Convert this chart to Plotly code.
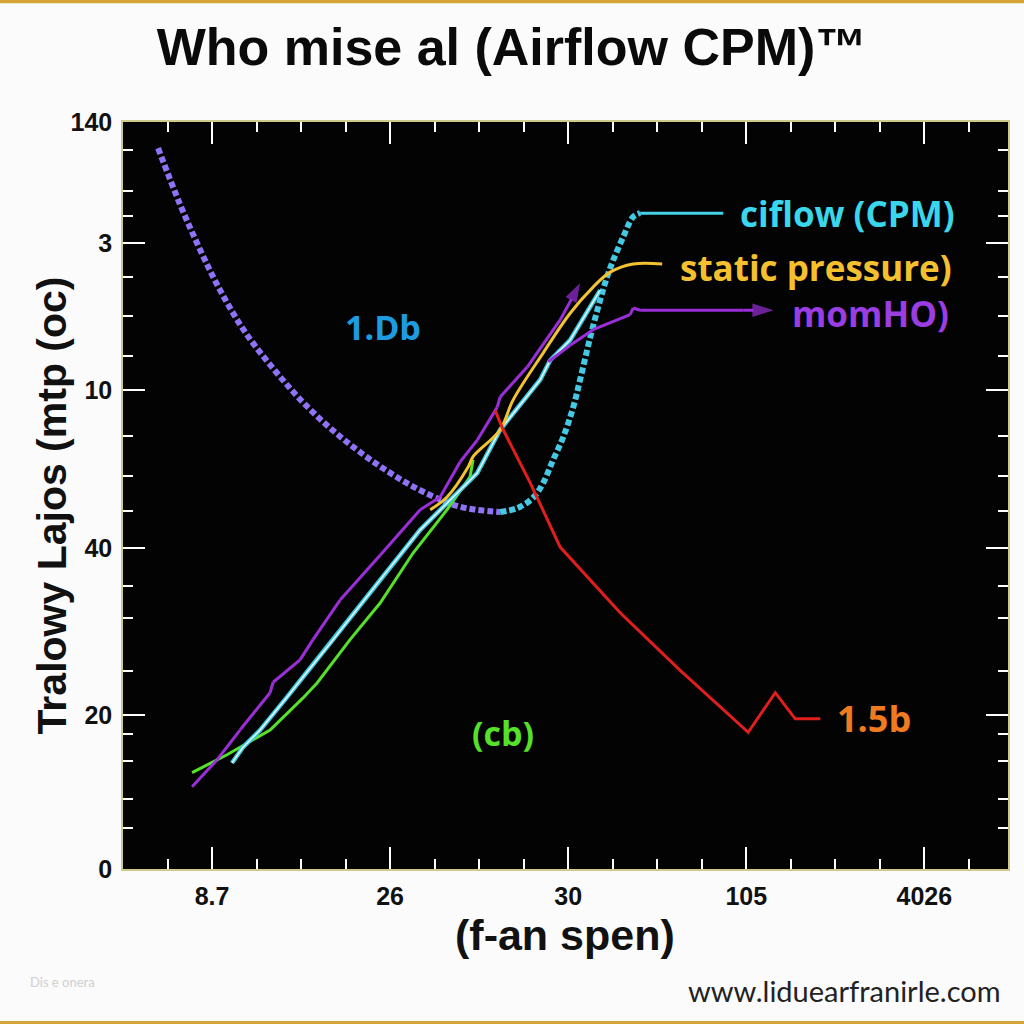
import plotly.graph_objects as go

# ---- data (x in tick-index units: 0..4 -> "8.7".."4026"; y in 0..100 axis units) ----
x_tick_labels = ["8.7", "26", "30", "105", "4026"]
x_tick_vals = [0, 1, 2, 3, 4]
y_tick_labels = ["140", "3", "10", "40", "20", "0"]
y_tick_vals = [100, 83.8, 64.1, 43.0, 20.6, 0]

fan_curve_x = [-0.303, -0.180, -0.067, 0.045, 0.185, 0.354, 0.522, 0.719, 0.944, 1.169, 1.393, 1.618]
fan_curve_y = [96.5, 89.0, 82.9, 77.5, 71.9, 66.7, 62.2, 57.9, 53.9, 50.7, 48.5, 47.8]

airflow_dot_x = [1.618, 1.713, 1.803, 1.860, 1.916, 1.972, 2.028, 2.067, 2.124, 2.180, 2.219, 2.253, 2.309, 2.365, 2.404]
airflow_dot_y = [47.8, 48.3, 49.7, 51.7, 54.8, 57.8, 61.8, 65.5, 71.2, 76.2, 79.3, 81.5, 84.6, 87.3, 87.8]
airflow_tail_x = [2.404, 2.871]
airflow_tail_y = [87.8, 87.8]

static_x = [1.225, 1.320, 1.438, 1.466, 1.618, 1.691, 1.860, 2.011, 2.140, 2.236, 2.365, 2.528]
static_y = [48.1, 49.8, 53.8, 55.2, 58.8, 62.8, 69.1, 74.4, 77.9, 79.9, 81.0, 81.0]

cyan_x = [0.112, 0.174, 0.270, 0.365, 0.421, 0.511, 0.680, 0.944, 1.169, 1.489, 1.618, 1.843, 1.899, 2.011, 2.180]
cyan_y = [14.2, 16.3, 18.6, 21.3, 23.0, 25.7, 30.7, 38.7, 45.4, 53.0, 58.8, 65.5, 68.1, 70.8, 77.5]

green_x = [-0.112, 0.084, 0.326, 0.511, 0.590, 0.775, 0.944, 1.129, 1.320, 1.449, 1.466]
green_y = [12.9, 15.3, 18.6, 22.9, 24.9, 30.7, 35.6, 42.3, 48.1, 52.5, 54.8]

purple_x = [-0.112, 0.028, 0.157, 0.326, 0.343, 0.494, 0.567, 0.719, 0.944, 1.169, 1.281, 1.393, 1.489, 1.601, 1.618, 1.770, 1.955, 2.067]
purple_y = [11.0, 14.6, 18.6, 23.6, 25.0, 28.0, 30.7, 36.0, 42.0, 48.1, 49.8, 54.5, 57.4, 61.8, 63.2, 67.2, 73.5, 78.4]

mom_x = [1.888, 2.011, 2.140, 2.275, 2.348, 2.365, 2.404, 2.983, 3.152]
mom_y = [67.9, 70.1, 72.2, 73.5, 74.2, 75.1, 74.8, 74.8, 74.8]

red_x = [1.590, 1.635, 1.787, 1.955, 2.292, 2.629, 3.011, 3.163, 3.275, 3.416]
red_y = [61.4, 58.8, 51.7, 43.1, 34.3, 26.6, 18.3, 23.6, 20.1, 20.1]

y_minor_vals = [96.3, 90.8, 87.4, 79.3, 74.0, 68.7, 58.0, 52.6, 47.9, 37.9, 33.6, 26.5, 18.1, 14.5, 9.4, 5.5]

FONT = "Liberation Sans"
LABEL_FONT = "Open Sans"

fig = go.Figure()

# fan curve (dotted, purple) and airflow rise (dotted, cyan)
fig.add_trace(go.Scatter(x=fan_curve_x, y=fan_curve_y, mode="lines", line=dict(color="#8f72f5", width=6, dash="6px,3px", shape="spline"), hoverinfo="skip"))
fig.add_trace(go.Scatter(x=airflow_dot_x, y=airflow_dot_y, mode="lines", line=dict(color="#45c8e4", width=6, dash="6px,3px", shape="spline"), hoverinfo="skip"))
fig.add_trace(go.Scatter(x=airflow_tail_x, y=airflow_tail_y, mode="lines", line=dict(color="#45d0e8", width=3), hoverinfo="skip"))

# green
fig.add_trace(go.Scatter(x=green_x, y=green_y, mode="lines", line=dict(color="#56e02a", width=3), hoverinfo="skip"))
# cyan/white double line
fig.add_trace(go.Scatter(x=cyan_x, y=cyan_y, mode="lines", line=dict(color="#3cc6e0", width=4.5), hoverinfo="skip"))
fig.add_trace(go.Scatter(x=cyan_x, y=cyan_y, mode="lines", line=dict(color="#e8fbff", width=1.5), hoverinfo="skip"))
# yellow static pressure
fig.add_trace(go.Scatter(x=static_x, y=static_y, mode="lines", line=dict(color="#f2c232", width=3, shape="spline"), hoverinfo="skip"))

# purple arrow line
n = len(purple_x)
fig.add_trace(go.Scatter(x=purple_x, y=purple_y, mode="lines+markers",
                         line=dict(color="#9a2fd8", width=3),
                         marker=dict(symbol="arrow", angleref="previous", size=[0] * (n - 1) + [20], color="#9a2fd8", line=dict(width=0)),
                         hoverinfo="skip"))
m = len(mom_x)
fig.add_trace(go.Scatter(x=mom_x, y=mom_y, mode="lines+markers",
                         line=dict(color="#9a2fd8", width=3),
                         marker=dict(symbol="arrow", angleref="previous", size=[0] * (m - 1) + [22], color="#9a2fd8", line=dict(width=0)),
                         hoverinfo="skip"))
# red
fig.add_trace(go.Scatter(x=red_x, y=red_y, mode="lines", line=dict(color="#e01e1e", width=3), hoverinfo="skip"))

# in-plot labels
labels = [
    (airflow_tail_x[-1] + 0.084, airflow_tail_y[-1], "ciflow (CPM)", "#3ad6ec", 35, "left"),
    (static_x[-1] + 0.09, static_y[-1] - 0.5, "static pressure)", "#f5c02e", 35, "left"),
    (mom_x[-1] + 0.095, mom_y[-1] - 0.4, "momHO)", "#9a3de2", 35, "left"),
    (red_x[-1] + 0.084, red_y[-1], "1.5b", "#f07a20", 36, "left"),
    (0.96, 72.6, "1.Db", "#1d9ce2", 34, "center"),
    (1.635, 18.2, "(cb)", "#55e02a", 34, "center"),
]
for lx, ly, txt, col, sz, anc in labels:
    fig.add_annotation(x=lx, y=ly, text=f"<b>{txt}</b>", showarrow=False, xanchor=anc, yanchor="middle",
                       font=dict(family=LABEL_FONT, size=sz, color=col))

# axis titles, footer
fig.add_annotation(xref="paper", yref="paper", x=-0.080, y=0.487, text="<b>Tralowy Lajos (mtp (oc)</b>", textangle=-90,
                   showarrow=False, xanchor="center", yanchor="middle", font=dict(family=FONT, size=41, color="#111111"))
fig.add_annotation(xref="paper", yref="paper", x=0.499, y=-0.088, text="<b>(f-an spen)</b>",
                   showarrow=False, xanchor="center", yanchor="middle", font=dict(family=FONT, size=43, color="#111111"))
fig.add_annotation(xref="paper", yref="paper", x=0.994, y=-0.162, text="www.liduearfranirle.com",
                   showarrow=False, xanchor="right", yanchor="middle", font=dict(family="Lato", size=29, color="#222222"))
fig.add_annotation(xref="paper", yref="paper", x=-0.107, y=-0.151, text="Dis e onera",
                   showarrow=False, xanchor="left", yanchor="middle", font=dict(family="Lato", size=13, color="#d0d0d0"))

# gold borders at top and bottom of the page
for y0, y1 in [(1.159, 1.170), (-0.2035, -0.215)]:
    fig.add_shape(type="rect", xref="paper", yref="paper", x0=-0.15, x1=1.03, y0=y0, y1=y1,
                  fillcolor="#d4a437", line=dict(width=0), layer="above")

tick_font = dict(family=FONT, size=25, color="#111111", weight="bold")
tick_common = dict(ticks="inside", tickcolor="#ffffff", tickwidth=2, ticklen=22,
                   showline=True, linecolor="#cfc98a", linewidth=1.5, mirror="ticks",
                   showgrid=False, zeroline=False, tickfont=tick_font)

fig.update_xaxes(range=[-0.5, 4.47], tickmode="array", tickvals=x_tick_vals, ticktext=x_tick_labels,
                 minor=dict(dtick=0.25, tick0=0, ticks="inside", ticklen=10, tickwidth=2, tickcolor="#ffffff", showgrid=False),
                 ticklabelstandoff=4, **tick_common)
fig.update_yaxes(range=[0, 100], tickmode="array", tickvals=y_tick_vals, ticktext=y_tick_labels,
                 minor=dict(tickvals=y_minor_vals, ticks="inside", ticklen=10, tickwidth=2, tickcolor="#ffffff", showgrid=False),
                 ticklabelstandoff=4, **tick_common)

fig.update_layout(
    width=1024, height=1024,
    margin=dict(l=123, r=16, t=122, b=155),
    paper_bgcolor="#fbfbfb", plot_bgcolor="#030303",
    showlegend=False,
    title=dict(text="<b>Who mise al (Airflow CPM)™</b>", x=0.5, xanchor="center", y=0.954, yanchor="middle",
               font=dict(family=FONT, size=52, color="#0a0a0a")),
)

fig.write_html("out.html", config={"displayModeBar": False},
               post_script="document.body.style.margin='0px';document.body.style.background='#fbfbfb';")
